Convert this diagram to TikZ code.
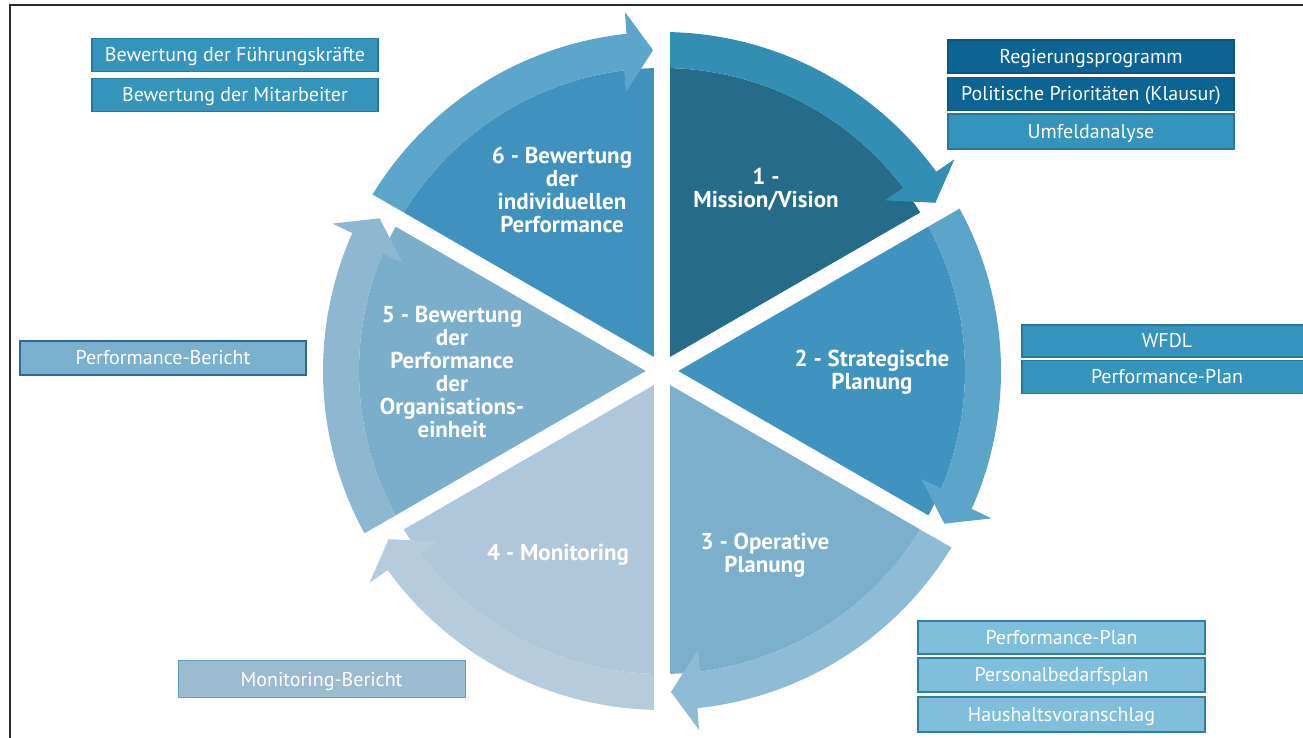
\documentclass[tikz,border=0pt]{standalone}
\usepackage{fontspec}
\setmainfont{PT Sans}
\usetikzlibrary{calc}
\definecolor{p1}{HTML}{256C8B}\definecolor{b1}{HTML}{338EB4}
\definecolor{p2}{HTML}{3F94BF}\definecolor{b2}{HTML}{5CA5CA}
\definecolor{p3}{HTML}{7BAFCC}\definecolor{b3}{HTML}{8EBBD5}
\definecolor{p4}{HTML}{AFC7DA}\definecolor{b4}{HTML}{B5CCDD}
\definecolor{p5}{HTML}{7BAECB}\definecolor{b5}{HTML}{8EB7D1}
\definecolor{p6}{HTML}{3F92BE}\definecolor{b6}{HTML}{5BA6CA}
\definecolor{bxdark}{HTML}{0B6494}\definecolor{bxdarkl}{HTML}{0A5680}
\definecolor{bxmid}{HTML}{3594BC}\definecolor{bxmidl}{HTML}{26789E}
\definecolor{bxlight}{HTML}{7FBFDB}\definecolor{bxlightl}{HTML}{2F7FA5}
\definecolor{bxpb}{HTML}{7BB0CE}\definecolor{bxpbl}{HTML}{2C6A9C}
\definecolor{bxmb}{HTML}{9ABBD0}\definecolor{bxmbl}{HTML}{5EA0C4}
\definecolor{frame}{HTML}{2A2A2A}
\begin{document}
\begin{tikzpicture}[x=1pt,y=1pt,
  infobox/.style={draw=#1l, fill=#1, line width=1.3pt, minimum width=286pt, minimum height=33pt,
     inner sep=0pt, text height=14pt, text depth=0pt, text=white, font=\fontsize{20}{22}\selectfont},
  seclabel/.style={text=white, align=center, font=\fontsize{23}{23}\selectfont\bfseries}]
\useasboundingbox (0,0) rectangle (1303,738);
\clip (0,0) rectangle (1303,738);
\coordinate (C) at (662,367);
% sectors with arrows
\foreach \S/\pc/\bc in {90/p1/b1, 30/p2/b2, -30/p3/b3, -90/p4/b4, -150/p5/b5, 150/p6/b6} {
  \pgfmathsetmacro\E{\S-60}
  \pgfmathsetmacro\Eo{\E+6}
  \pgfmathsetmacro\Ebo{\E+5.9}
  \pgfmathsetmacro\Et{\E+1.6}
  \pgfmathsetmacro\Ebi{\E+7.4}
  \pgfmathsetmacro\Ei{\E+7.2}
  \fill[\pc] (C) -- ($(C)+(\S:303)$) arc[start angle=\S, end angle=\E, radius=303] -- cycle;
  \fill[\bc] ($(C)+(\S:339)$) arc[start angle=\S, end angle=\Eo, radius=339]
     -- ($(C)+(\Ebo:361)$) -- ($(C)+(\Et:321)$) -- ($(C)+(\Ebi:281)$)
     -- ($(C)+(\Ei:303)$) arc[start angle=\Ei, end angle=\S, radius=303] -- cycle;
}
\foreach \a in {90,30,-30,-90,-150,150}
  \draw[white, line width=16pt] (C) -- ($(C)+(\a:345)$);
% sector labels
\node[seclabel] (l1) at (766,549) {1 -\\Mission/Vision};
\node[seclabel] (l2) at (872,365.5) {2 - Strategische\\Planung};
\node[seclabel] (l3) at (765,182.5) {3 - Operative\\Planung};
\node[seclabel] (l4) at (558,183) {4 - Monitoring};
\node[seclabel] (l5) at (452,365.5) {5 - Bewertung\\der\\Performance\\der\\Organisations-\\einheit};
\node[seclabel] (l6) at (562,548.5) {6 - Bewertung\\der\\individuellen\\Performance};
% boxes
\node[infobox=bxmid] (fk) at (235,683) {Bewertung der Führungskräfte};
\node[infobox=bxmid] (ma) at (235,643) {Bewertung der Mitarbeiter};
\node[infobox=bxdark] (rp) at (1091,681.5) {Regierungsprogramm};
\node[infobox=bxdark] (pp) at (1091,644) {Politische Prioritäten (Klausur)};
\node[infobox=bxmid, minimum height=35pt] (ua) at (1091,606.5) {Umfeldanalyse};
\node[infobox=bxmid, minimum width=290pt, minimum height=32pt] (wfdl) at (1167,397) {WFDL};
\node[infobox=bxmid, minimum width=290pt] (ppl) at (1167,361) {Performance-Plan};
\node[infobox=bxlight, minimum width=287pt] (ppl2) at (1061.5,100.5) {Performance-Plan};
\node[infobox=bxlight, minimum width=287pt, minimum height=34pt] (pbp) at (1061.5,63) {Personalbedarfsplan};
\node[infobox=bxlight, minimum width=287pt, minimum height=35pt] (hv) at (1061.5,23.5) {Haushaltsvoranschlag};
\node[infobox=bxpb, minimum height=34pt] (pber) at (163,380) {Performance-Bericht};
\node[infobox=bxmb, minimum width=287pt, minimum height=37pt, line width=1pt] (mber) at (321.5,58.5) {Monitoring-Bericht};
% frame
\draw[frame, line width=2pt] (10,-5) -- (10,733) -- (1310,733);
\end{tikzpicture}
\end{document}
